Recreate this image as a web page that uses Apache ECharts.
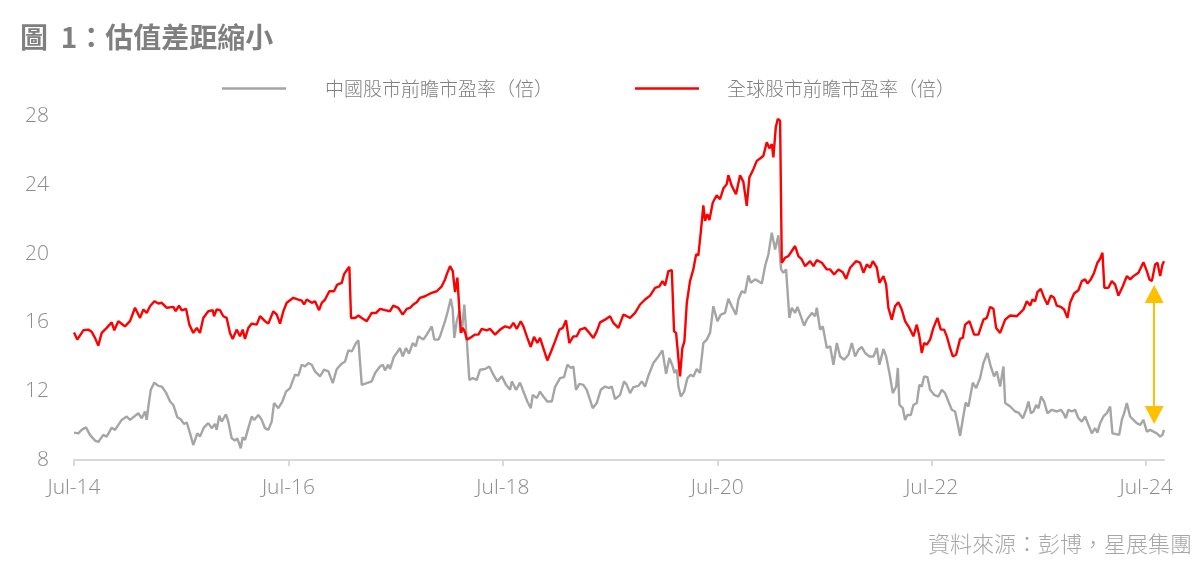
<!DOCTYPE html>
<html><head><meta charset="utf-8">
<script src="https://cdn.jsdelivr.net/npm/echarts@6/dist/echarts.min.js"></script>
<style>html,body{margin:0;padding:0;background:#fff}#chart{width:1201px;height:572px}</style>
</head><body><div id="chart"></div>
<script>
const titleText = '圖  1：估值差距縮小';
const seriesNames = ['中國股市前瞻市盈率（倍）', '全球股市前瞻市盈率（倍）'];
const sourceText = '資料來源：彭博，星展集團';
// x = months since Jul-2014
const xTickMonths = [0, 24, 48, 72, 96, 120];
const xTickLabels = ['Jul-14', 'Jul-16', 'Jul-18', 'Jul-20', 'Jul-22', 'Jul-24'];
const xMax = 122;
const yMin = 8, yMax = 28, yStep = 4;

const chinaPE = [[0,9.59],[0.48,9.55],[0.86,9.75],[1.34,9.9],[1.79,9.46],[2.35,9.13],[2.72,9.05],[3.28,9.46],[3.66,9.36],[4.22,9.88],[4.59,9.75],[5.34,10.33],[5.9,10.53],[6.27,10.33],[7.2,10.72],[7.58,10.43],[7.95,10.82],[8.14,10.33],[8.32,11.1],[8.59,12.08],[8.99,12.5],[9.44,12.31],[9.82,12.27],[10.3,11.92],[10.75,11.4],[11.12,11.2],[11.56,10.49],[11.94,10.37],[12.31,10.1],[12.62,10.18],[12.99,9.55],[13.35,8.87],[13.8,9.55],[14.1,9.36],[14.55,9.9],[15.03,10.14],[15.41,9.85],[15.78,10.1],[15.97,9.75],[16.26,10.57],[16.53,10.23],[17.01,10.66],[17.27,10.23],[17.65,9.26],[18.02,9.13],[18.28,9.26],[18.66,8.68],[18.88,9.32],[19.14,9.17],[19.51,9.85],[19.89,10.53],[20.15,10.33],[20.63,10.62],[21.01,10.33],[21.38,9.85],[21.75,9.75],[22.13,10.23],[22.39,11.31],[22.87,11.01],[23.32,11.4],[23.73,11.98],[24.18,12.18],[24.74,12.96],[25.11,12.9],[25.49,13.54],[25.86,13.44],[26.23,13.64],[26.61,13.54],[26.98,13.15],[27.54,12.86],[27.99,13.25],[28.47,13.15],[28.96,12.47],[29.41,13.29],[29.97,13.6],[30.34,13.73],[30.71,14.37],[31.09,14.31],[31.57,14.8],[31.83,14.96],[32.21,12.37],[32.77,12.47],[33.32,12.57],[33.7,13.06],[34.25,13.44],[34.56,13.54],[34.81,13.21],[35.18,13.54],[35.37,13.29],[35.82,14.02],[36.12,14.22],[36.49,14.51],[36.79,14.02],[37.16,14.51],[37.5,14.18],[37.91,14.8],[38.25,14.61],[38.54,15.19],[39.1,15.0],[39.48,15.29],[40.04,15.77],[40.33,15.0],[40.78,15.0],[40.97,15.19],[41.53,16.07],[41.79,16.55],[42.17,17.37],[42.39,16.75],[42.57,15.1],[42.84,16.07],[43.13,16.65],[43.4,15.39],[43.69,17.04],[43.96,15.0],[44.25,12.66],[44.63,12.76],[45.08,12.66],[45.45,13.25],[46.01,13.29],[46.49,13.44],[46.94,12.96],[47.38,12.57],[47.88,12.86],[48.36,12.37],[48.81,12.08],[49.0,12.57],[49.48,12.08],[49.93,12.5],[50.3,11.98],[50.74,11.4],[51.12,11.01],[51.35,11.79],[51.8,11.6],[52.16,11.98],[52.53,11.69],[52.98,11.4],[53.48,11.4],[53.84,12.24],[54.4,12.76],[54.85,12.82],[55.22,13.54],[55.6,13.35],[55.89,13.44],[56.19,12.08],[56.56,12.43],[57.01,12.37],[57.39,12.08],[57.76,11.5],[58.06,11.01],[58.51,11.31],[58.96,12.08],[59.44,12.27],[59.92,12.18],[60.19,12.27],[60.56,11.54],[61.12,11.79],[61.57,12.57],[61.87,12.37],[62.24,11.89],[62.61,12.24],[63.17,12.31],[63.55,12.57],[63.92,12.27],[64.29,12.9],[64.85,13.64],[65.41,14.02],[65.86,14.37],[66.27,13.01],[66.64,13.93],[67.02,13.44],[67.2,13.06],[67.47,13.25],[67.65,12.27],[67.92,11.69],[68.29,11.98],[68.66,12.76],[69.03,12.96],[69.33,12.86],[69.7,13.29],[70.07,13.06],[70.44,14.8],[70.82,15.0],[71.19,15.39],[71.56,16.94],[72.01,16.07],[72.39,16.45],[72.87,16.55],[73.24,17.37],[73.62,16.94],[74.1,16.45],[74.36,17.33],[74.74,17.81],[75.11,17.72],[75.48,18.73],[75.75,18.3],[76.23,18.5],[76.6,18.4],[76.98,18.26],[77.35,19.27],[77.72,19.95],[78.1,21.22],[78.47,20.24],[78.84,21.06],[79.14,19.08],[79.4,18.89],[79.7,19.08],[80.07,16.26],[80.34,16.85],[80.71,16.55],[80.97,16.9],[81.35,16.36],[81.72,15.81],[82.02,16.16],[82.58,16.55],[82.95,16.36],[83.14,16.85],[83.51,15.58],[83.81,15.77],[84.26,14.51],[84.63,14.61],[85.0,13.54],[85.38,14.8],[85.75,14.02],[86.2,13.83],[86.68,14.12],[87.06,14.8],[87.43,14.02],[87.8,14.41],[88.18,14.57],[88.55,14.22],[89.03,14.02],[89.48,14.02],[89.86,14.51],[90.15,13.54],[90.6,14.45],[90.9,14.02],[91.27,13.06],[91.65,11.89],[92.02,12.27],[92.21,13.35],[92.39,11.2],[92.77,11.01],[93.02,10.33],[93.28,10.62],[93.66,10.62],[93.95,11.2],[94.33,11.31],[94.62,12.37],[94.89,12.27],[95.15,12.86],[95.52,12.82],[95.82,12.08],[96.27,11.79],[96.75,11.69],[97.13,12.08],[97.5,11.89],[97.87,11.4],[98.25,10.92],[98.62,10.82],[98.88,10.18],[99.18,9.4],[99.48,10.37],[99.81,11.34],[100.11,11.11],[100.6,12.5],[100.97,12.18],[101.41,12.76],[101.79,13.64],[102.23,14.22],[102.61,13.44],[102.98,12.86],[103.28,13.15],[103.66,12.27],[104.03,13.44],[104.22,11.31],[104.78,11.11],[105.34,10.82],[105.71,10.76],[106.2,10.43],[106.57,10.92],[106.83,11.4],[107.1,10.72],[107.39,10.82],[107.69,11.2],[107.95,11.01],[108.25,11.69],[108.58,11.4],[108.95,10.72],[109.44,10.92],[110.0,10.82],[110.45,10.92],[110.74,10.72],[111.01,10.43],[111.3,10.92],[111.68,10.82],[112.05,10.92],[112.42,10.43],[112.8,10.23],[113.17,10.53],[113.54,10.04],[113.92,9.55],[114.29,9.85],[114.55,9.59],[114.85,10.14],[115.22,10.53],[115.6,10.72],[115.97,11.11],[116.23,9.55],[116.53,9.52],[116.98,9.46],[117.28,10.33],[117.54,10.72],[117.84,11.31],[118.21,10.53],[118.58,10.33],[118.95,10.14],[119.33,10.04],[119.7,10.33],[120.08,9.65],[120.45,9.75],[120.82,9.65],[121.19,9.55],[121.57,9.36],[121.83,9.46],[122,9.75]];

const globalPE = [[0,15.42],[0.37,15.0],[1.04,15.54],[1.6,15.58],[1.98,15.45],[2.35,15.1],[2.72,14.65],[3.1,15.39],[3.66,15.68],[4.22,16.0],[4.51,15.54],[4.96,16.07],[5.71,15.77],[6.27,16.07],[6.83,16.85],[7.39,16.26],[7.76,16.75],[8.14,16.55],[8.51,16.94],[8.99,17.23],[9.44,17.1],[9.82,17.14],[10.38,16.85],[11.12,16.9],[11.38,16.65],[11.75,16.98],[12.06,16.7],[12.54,16.79],[12.91,15.87],[13.35,15.39],[13.74,15.68],[14.1,15.39],[14.47,16.26],[15.03,16.65],[15.53,16.71],[15.67,16.36],[15.97,16.75],[16.34,16.71],[16.71,16.36],[17.09,16.26],[17.46,15.39],[17.76,15.04],[18.21,15.58],[18.58,15.19],[18.88,15.58],[19.14,15.04],[19.51,15.68],[19.89,15.93],[20.45,15.87],[20.82,16.36],[21.38,16.07],[21.75,15.93],[22.31,16.65],[22.69,16.45],[23.06,15.93],[23.43,16.65],[23.81,17.14],[24.55,17.43],[25.11,17.33],[25.49,17.27],[25.75,17.04],[26.05,17.33],[26.61,17.14],[26.98,17.23],[27.43,16.71],[27.73,17.14],[28.1,17.33],[28.58,17.81],[29.1,17.81],[29.47,18.2],[29.97,18.3],[30.22,18.79],[30.59,19.08],[30.82,19.24],[31.01,16.26],[31.46,16.26],[31.83,16.4],[32.21,16.26],[32.77,16.07],[33.32,16.55],[33.81,16.55],[34.25,16.79],[34.81,16.71],[35.37,16.65],[35.74,16.98],[36.3,16.85],[36.79,16.45],[37.24,16.79],[37.61,16.85],[37.98,17.04],[38.36,17.17],[38.73,17.43],[39.29,17.52],[39.66,17.62],[40.04,17.72],[40.6,17.81],[41.16,18.1],[41.53,18.5],[41.72,18.79],[42.09,19.27],[42.39,18.98],[42.65,17.76],[42.91,18.6],[43.1,18.5],[43.29,15.39],[43.51,15.68],[43.77,15.42],[43.96,15.0],[44.33,15.1],[44.89,15.29],[45.26,15.29],[45.64,15.62],[46.2,15.54],[46.57,15.62],[47.13,15.29],[47.69,15.58],[48.25,15.77],[48.81,15.68],[49.18,15.97],[49.56,15.62],[50.0,16.07],[50.3,15.77],[50.74,15.1],[51.12,14.57],[51.49,15.16],[51.86,14.8],[52.16,15.1],[52.53,14.51],[52.98,13.79],[53.4,14.31],[53.84,14.9],[54.33,15.58],[54.71,15.68],[55.07,16.12],[55.44,14.8],[55.89,15.19],[56.27,15.19],[56.64,15.58],[57.2,15.68],[57.68,15.39],[58.13,15.1],[58.51,15.48],[58.88,16.0],[59.44,16.16],[60.0,16.36],[60.37,15.97],[60.93,15.68],[61.49,16.45],[61.87,16.36],[62.24,16.26],[62.8,16.55],[63.36,17.04],[63.92,17.33],[64.48,17.56],[65.04,18.01],[65.52,18.1],[65.86,18.4],[66.16,18.15],[66.53,18.98],[66.91,19.04],[67.16,15.48],[67.39,15.39],[67.83,12.86],[68.09,14.51],[68.32,14.9],[68.59,17.14],[68.95,18.4],[69.32,19.08],[69.63,19.95],[69.88,19.9],[70.15,21.22],[70.44,22.81],[70.63,21.9],[70.89,22.29],[71.12,21.95],[71.5,22.97],[71.94,23.39],[72.31,23.16],[72.68,23.78],[73.06,24.04],[73.24,24.56],[73.62,23.94],[74.1,23.45],[74.55,24.56],[74.92,24.17],[75.3,22.77],[75.59,24.42],[76.04,24.91],[76.42,25.39],[76.79,25.53],[77.16,25.69],[77.54,26.47],[77.83,26.12],[78.1,26.37],[78.28,25.59],[78.55,27.34],[78.77,27.83],[79.03,27.73],[79.22,19.47],[79.59,19.76],[79.96,19.85],[80.34,20.15],[80.71,20.44],[81.08,19.85],[81.46,19.66],[81.83,19.27],[82.39,19.56],[82.76,19.27],[83.14,19.62],[83.7,19.47],[84.26,19.08],[84.63,19.08],[85.08,18.79],[85.56,19.08],[86.05,18.92],[86.42,18.53],[86.87,19.18],[87.54,19.56],[87.98,19.47],[88.36,18.89],[88.74,19.37],[89.1,19.18],[89.41,19.56],[89.86,19.18],[90.15,18.3],[90.6,18.69],[90.9,18.2],[91.15,16.85],[91.53,16.16],[91.9,16.94],[92.27,17.17],[92.65,16.75],[93.02,16.07],[93.5,15.68],[93.95,15.19],[94.33,15.87],[94.62,15.19],[94.89,14.22],[95.15,14.8],[95.45,14.71],[95.82,15.0],[96.19,15.68],[96.64,16.26],[97.02,15.58],[97.39,15.58],[97.69,15.19],[98.06,14.51],[98.36,14.02],[98.73,14.12],[99.18,15.04],[99.48,15.1],[99.74,15.87],[100.22,16.07],[100.75,15.29],[101.23,15.29],[101.79,16.16],[102.17,16.26],[102.54,16.9],[102.91,16.79],[103.21,15.68],[103.66,15.39],[104.22,16.16],[104.78,16.4],[105.53,16.36],[105.9,16.55],[106.27,16.75],[106.65,17.23],[107.02,16.98],[107.27,17.33],[107.58,17.23],[107.83,17.76],[108.21,17.95],[108.58,17.43],[108.95,17.04],[109.33,17.56],[109.7,17.43],[110.0,16.98],[110.45,16.9],[110.82,16.75],[111.19,16.26],[111.49,17.14],[111.94,17.68],[112.42,17.87],[112.8,18.4],[113.17,18.5],[113.43,18.26],[113.81,18.5],[114.18,18.89],[114.55,19.47],[114.85,19.7],[115.11,20.05],[115.33,18.01],[115.78,18.01],[116.16,18.4],[116.53,18.2],[116.9,17.56],[117.39,18.1],[117.84,18.69],[118.21,18.5],[118.58,18.69],[119.14,18.89],[119.7,19.5],[120.08,18.98],[120.37,18.5],[120.64,18.4],[121.01,19.37],[121.27,19.47],[121.57,18.69],[121.83,19.37],[122,19.56]];

// annotation arrow: valuation gap at latest date (month, top value, bottom value)
const gapArrow = [120.9, 17.65, 10.62];

const chart = echarts.init(document.getElementById('chart'), null, {renderer: 'canvas'});
const cjk = '"Noto Sans CJK TC", "Noto Sans CJK SC", sans-serif';
const latin = '"Open Sans", "Noto Sans", sans-serif';

chart.setOption({
  animation: false,
  backgroundColor: '#ffffff',
  title: {
    text: titleText, left: 20, top: 23, padding: 0,
    textStyle: {fontFamily: cjk, fontSize: 28, fontWeight: 'bold', color: '#7f7f7f'}
  },
  legend: [
    {data: [seriesNames[0]], left: 222, top: 79, padding: 0, icon: 'rect', itemWidth: 64, itemHeight: 2.4,
     textStyle: {fontFamily: cjk, fontSize: 19, fontWeight: 300, color: '#7f7f7f', padding: [0, 0, 0, 34]}},
    {data: [seriesNames[1]], left: 635, top: 79, padding: 0, icon: 'rect', itemWidth: 64, itemHeight: 2.6,
     textStyle: {fontFamily: cjk, fontSize: 19, fontWeight: 300, color: '#7f7f7f', padding: [0, 0, 0, 23]}}
  ],
  grid: {left: 74, right: 37, top: 116, bottom: 112, containLabel: false},
  xAxis: {
    type: 'value', min: 0, max: xMax, interval: 24,
    axisLine: {show: true, lineStyle: {color: '#d9d9d9', width: 2}},
    axisTick: {show: true, customValues: xTickMonths, length: 6, lineStyle: {color: '#d9d9d9', width: 2}},
    axisLabel: {
      customValues: xTickMonths, margin: 18, fontFamily: latin, fontWeight: 300, fontSize: 21, color: '#8c8c8c',
      formatter: function (v) { const i = xTickMonths.indexOf(v); return i >= 0 ? xTickLabels[i] : ''; }
    },
    splitLine: {show: false}
  },
  yAxis: {
    type: 'value', min: yMin, max: yMax, interval: yStep,
    axisLine: {show: false}, axisTick: {show: false}, splitLine: {show: false},
    axisLabel: {margin: 25, fontFamily: latin, fontWeight: 300, fontSize: 21, color: '#8c8c8c'}
  },
  graphic: [{
    type: 'text', right: 9, top: 533,
    style: {text: sourceText, font: '300 22px "Noto Sans CJK TC", sans-serif', fill: '#a6a6a6'}
  }],
  series: [
    {
      name: seriesNames[0], type: 'line', data: chinaPE, symbol: 'none', showSymbol: false,
      lineStyle: {color: '#a5a5a5', width: 2.4}, itemStyle: {color: '#a5a5a5'}, z: 2
    },
    {
      name: seriesNames[1], type: 'line', data: globalPE, symbol: 'none', showSymbol: false,
      lineStyle: {color: '#ff0000', width: 2.4}, itemStyle: {color: '#ff0000'}, z: 3,
      markLine: {
        silent: true, symbol: ['triangle', 'triangle'], symbolSize: [19, 18],
        label: {show: false},
        lineStyle: {color: '#ffc000', width: 2, type: 'solid'},
        itemStyle: {color: '#ffc000'},
        data: [[{coord: [gapArrow[0], gapArrow[1]]}, {coord: [gapArrow[0], gapArrow[2]]}]]
      }
    }
  ]
});
</script></body></html>
